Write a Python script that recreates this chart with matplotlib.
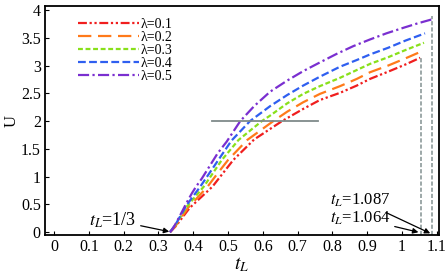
import numpy as np
import matplotlib
matplotlib.use("Agg")
import matplotlib.pyplot as plt

plt.rcParams['font.family'] = ['Liberation Serif', 'DejaVu Serif']
plt.rcParams['mathtext.fontset'] = 'stix'

# curves (t_L, U) for each lambda
t_01 = [0.333, 0.350, 0.390, 0.455, 0.485, 0.515, 0.575, 0.655, 0.716, 0.764, 0.822, 0.870, 0.908, 0.960, 1.010, 1.052]
u_01 = [0.00, 0.11, 0.44, 0.82, 1.06, 1.30, 1.67, 2.00, 2.22, 2.38, 2.51, 2.64, 2.76, 2.89, 3.02, 3.14]

t_02 = [0.333, 0.350, 0.385, 0.441, 0.470, 0.500, 0.555, 0.630, 0.670, 0.716, 0.764, 0.822, 0.870, 0.908, 0.960, 1.010, 1.054]
u_02 = [0.00, 0.12, 0.44, 0.82, 1.06, 1.30, 1.66, 2.00, 2.17, 2.34, 2.49, 2.63, 2.76, 2.88, 3.00, 3.13, 3.25]

t_03 = [0.333, 0.350, 0.380, 0.430, 0.455, 0.482, 0.530, 0.597, 0.621, 0.670, 0.716, 0.764, 0.822, 0.870, 0.908, 0.960, 1.010, 1.063]
u_03 = [0.00, 0.14, 0.45, 0.82, 1.05, 1.30, 1.66, 2.00, 2.10, 2.32, 2.49, 2.63, 2.78, 2.92, 3.03, 3.15, 3.28, 3.41]

t_04 = [0.333, 0.350, 0.380, 0.420, 0.445, 0.472, 0.510, 0.563, 0.621, 0.670, 0.716, 0.764, 0.822, 0.870, 0.908, 0.960, 1.010, 1.066]
u_04 = [0.00, 0.15, 0.48, 0.82, 1.05, 1.30, 1.65, 2.00, 2.27, 2.47, 2.64, 2.80, 2.98, 3.10, 3.20, 3.32, 3.45, 3.58]

t_05 = [0.333, 0.340, 0.350, 0.362, 0.380, 0.396, 0.408, 0.425, 0.448, 0.470, 0.496, 0.535, 0.575, 0.621, 0.670, 0.716, 0.765, 0.812, 0.860, 0.908, 0.955, 1.004, 1.045, 1.085]
u_05 = [0.00, 0.05, 0.16, 0.30, 0.52, 0.70, 0.82, 0.97, 1.20, 1.42, 1.63, 2.00, 2.27, 2.53, 2.73, 2.90, 3.06, 3.21, 3.35, 3.47, 3.58, 3.68, 3.76, 3.83]

labels = ['λ=0.1', 'λ=0.2', 'λ=0.3', 'λ=0.4', 'λ=0.5']
colors = ['#f01e1e', '#ff7a1a', '#88e01a', '#2f5ff0', '#7a2fd0']
dashes = [(4, 1.2, 1, 1.2, 1, 1.2), (6, 3), (2.2, 1.2), (3.5, 1.5), (5, 1.5, 1, 1.5)]

xticks = [0, 0.1, 0.2, 0.3, 0.4, 0.5, 0.6, 0.7, 0.8, 0.9, 1.0, 1.1]
xtick_labels = ['0', '0.1', '0.2', '0.3', '0.4', '0.5', '0.6', '0.7', '0.8', '0.9', '1', '1.1']
yticks = [0, 0.5, 1, 1.5, 2, 2.5, 3, 3.5, 4]
ytick_labels = ['0', '0.5', '1', '1.5', '2', '2.5', '3', '3.5', '4']

# reference marks
hline_u = 2.0
hline_t = (0.455, 0.757)
t_end_a = 1.053   # labelled 1.064
t_end_b = 1.085   # labelled 1.087

fig = plt.figure(figsize=(4.47, 2.78), dpi=100)
ax = fig.add_axes([0.1007, 0.1547, 0.8813, 0.8233])

ts = [t_01, t_02, t_03, t_04, t_05]
us = [u_01, u_02, u_03, u_04, u_05]
for t, u, lab, c, d in zip(ts, us, labels, colors, dashes):
    ax.plot(t, u, color=c, lw=1.6, dashes=d, label=lab)

ax.plot(hline_t, [hline_u, hline_u], color='#7f8a8a', lw=1.3)
ax.plot([t_end_a, t_end_a], [-0.05, u_01[-1]], color='#8c9a9a', lw=1.2, dashes=(2.5, 1.2))
ax.plot([t_end_b, t_end_b], [-0.05, u_05[-1] + 0.06], color='#8c9a9a', lw=1.2, dashes=(2.5, 1.2))

arrow = dict(arrowstyle='-|>', color='black', lw=0.9, mutation_scale=8, shrinkA=1, shrinkB=0)
ax.annotate(r'$t_L$=1/3', xy=(0.331, 0.01), xytext=(0.237, 0.22), fontsize=13,
            ha='right', va='center', arrowprops=arrow)
ax.annotate(r'$t_L$=1.087', xy=(t_end_b - 0.004, -0.02), xytext=(0.967, 0.57), fontsize=12,
            ha='right', va='center', arrowprops=arrow)
ax.annotate(r'$t_L$=1.064', xy=(t_end_a - 0.006, 0.0), xytext=(0.967, 0.25), fontsize=12,
            ha='right', va='center', arrowprops=arrow)

ax.set_xlim(-0.026, 1.106)
ax.set_ylim(-0.05, 4.07)
ax.set_xticks(xticks)
ax.set_xticklabels(xtick_labels)
ax.set_yticks(yticks)
ax.set_yticklabels(ytick_labels)
ax.tick_params(direction='in', length=3, width=0.8, labelsize=11.5, pad=3)
for s in ax.spines.values():
    s.set_linewidth(1.3)

ax.set_xlabel(r'$t_L$', fontsize=14, labelpad=0)
ax.set_ylabel('U', fontsize=12, labelpad=1)

ax.legend(loc='upper left', bbox_to_anchor=(0.06, 0.99), frameon=False, fontsize=10,
          handlelength=4.4, handletextpad=0.1, labelspacing=0.0, borderpad=0.2)

fig.savefig('out.png', dpi=100)
